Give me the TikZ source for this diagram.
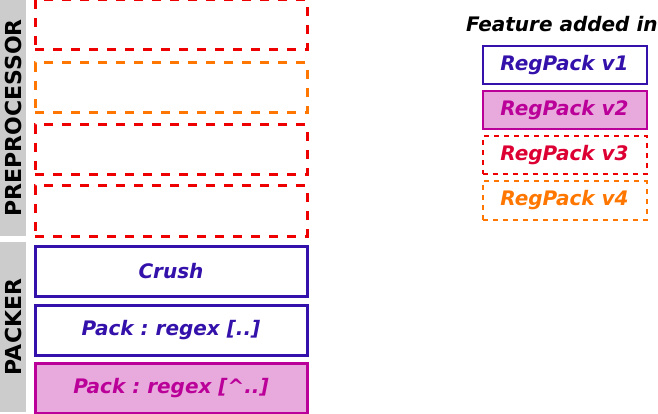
\documentclass[tikz,border=0pt]{standalone}
\usepackage{fontspec}
\setmainfont{DejaVu Sans}
\usetikzlibrary{positioning}
\frenchspacing

\definecolor{vone}{RGB}{51,17,170}
\definecolor{vtwo}{RGB}{187,0,153}
\definecolor{vtwofill}{RGB}{232,170,221}
\definecolor{vthree}{RGB}{238,0,0}
\definecolor{vthreetext}{RGB}{221,0,51}
\definecolor{vfour}{RGB}{255,119,0}
\definecolor{barfill}{RGB}{204,204,204}

\begin{document}
\begin{tikzpicture}[x=1pt, y=1pt,
font=\fontsize{20}{23}\selectfont\bfseries\itshape,
stage/.style={line width=3pt, minimum width=272pt, minimum height=50pt, inner sep=0pt},
v1stage/.style={stage, draw=vone, text=vone},
v2stage/.style={stage, draw=vtwo, fill=vtwofill, text=vtwo},
v3stage/.style={stage, draw=vthree, dash pattern=on 9pt off 9pt},
v4stage/.style={stage, draw=vfour, dash pattern=on 9pt off 9pt},
keybox/.style={line width=2pt, minimum width=164pt, minimum height=38pt, inner sep=0pt},
v1key/.style={keybox, draw=vone, text=vone},
v2key/.style={keybox, draw=vtwo, fill=vtwofill, text=vtwo},
v3key/.style={keybox, draw=vthree, text=vthreetext, dash pattern=on 5pt off 5pt},
v4key/.style={keybox, draw=vfour, text=vfour, dash pattern=on 5pt off 5pt},
sidebar/.style={fill=barfill, rotate=90, minimum height=26pt, inner sep=0pt, font=\fontsize{22}{24}\selectfont\bfseries}
]
\useasboundingbox (0,0) rectangle (658,-414);

% side labels
\node[sidebar, minimum width=236pt](pre_bar) at (13,-118){PREPROCESSOR};
\node[sidebar, minimum width=170pt](pack_bar) at (13,-327){PACKER};

% preprocessor stages
\node[v3stage](pre_a) at (171,-25){};
\node[v4stage](pre_b)[below=10pt of pre_a]{};
\node[v3stage](pre_c)[below=9pt of pre_b]{};
\node[v3stage](pre_d)[below=8pt of pre_c]{};

% packer stages
\node[v1stage](crush)[below=7pt of pre_d]{Crush};
\node[v1stage](pack_dot)[below=6pt of crush]{Pack : regex [..]};
\node[v2stage](pack_neg)[below=5pt of pack_dot]{Pack : regex [\textasciicircum..]};

% legend
\node[anchor=west, text=black, inner sep=0pt](key_title) at (466,-24){Feature added in};
\node[v1key](key_v1) at (564.5,-65.5){RegPack v1};
\node[v2key](key_v2)[below=5pt of key_v1]{RegPack v2};
\node[v3key](key_v3)[below=5pt of key_v2]{RegPack v3};
\node[v4key](key_v4)[below=5pt of key_v3]{RegPack v4};
\end{tikzpicture}
\end{document}
